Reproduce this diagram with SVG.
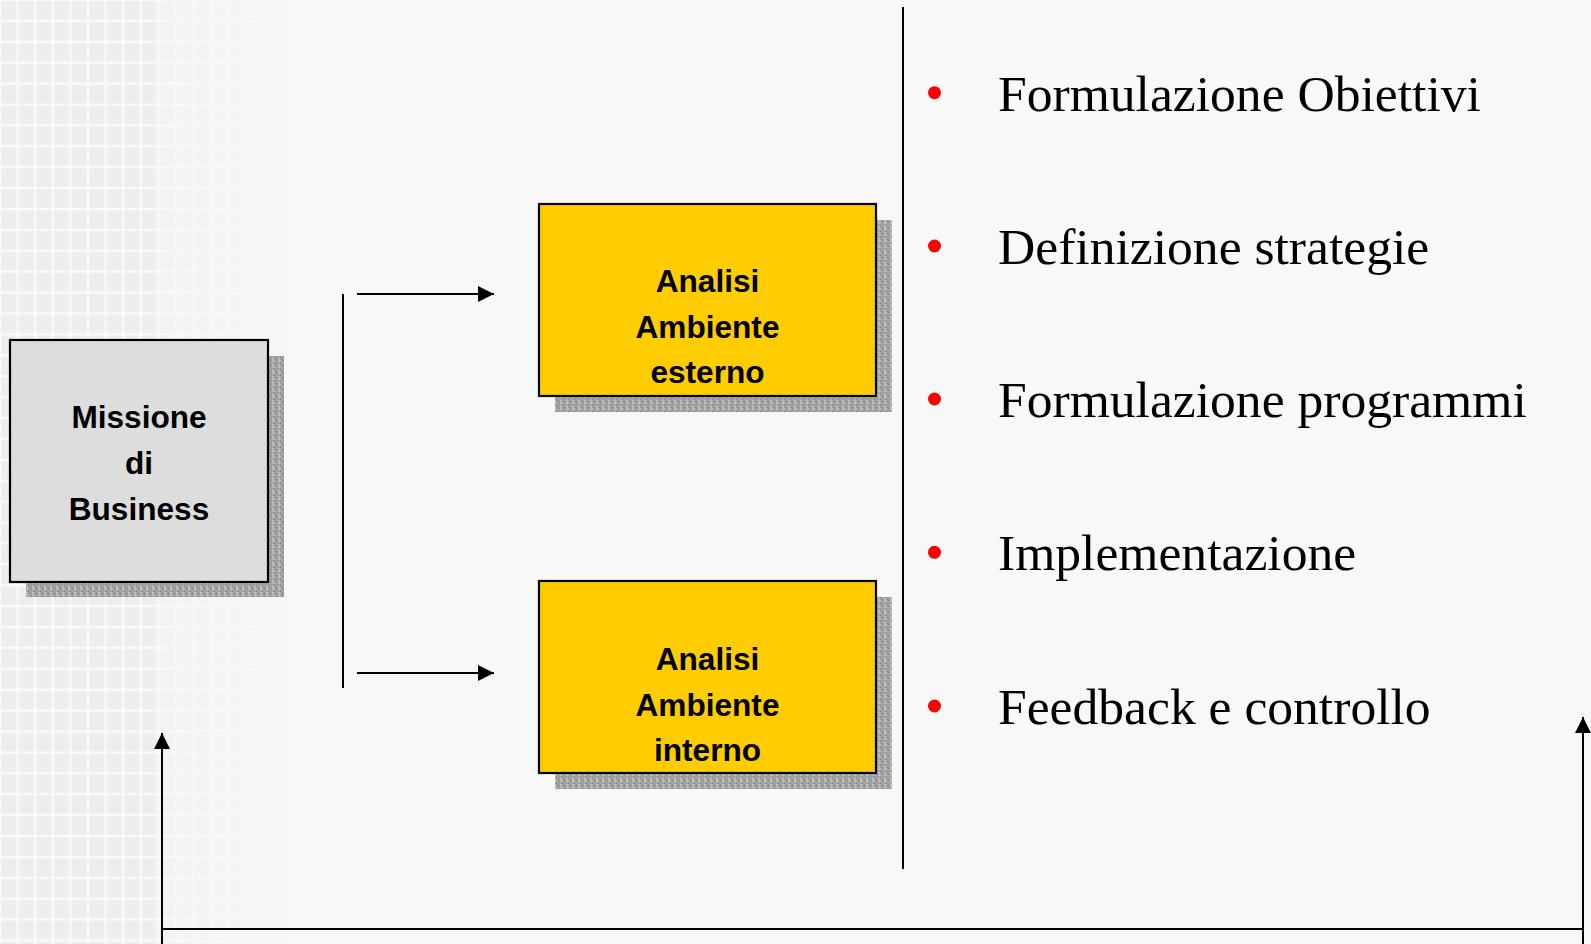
<svg xmlns="http://www.w3.org/2000/svg" width="1591" height="944" viewBox="0 0 1591 944">
  <style>
    .box { stroke: #000; stroke-width: 2.2; }
    .lbl { font-family: "Liberation Sans", Arial, sans-serif; font-weight: bold; font-size: 31.6px; fill: #000; text-anchor: middle; }
    .item { font-family: "Liberation Serif", "Times New Roman", serif; font-size: 51.6px; fill: #000; }
    .bullet { fill: #ff0000; }
    .conn { stroke: #000; stroke-width: 2; fill: none; }
  </style>
  <defs>
    <marker id="arrow" viewBox="0 0 16 16" refX="16" refY="8" markerWidth="16" markerHeight="16" markerUnits="userSpaceOnUse" orient="auto">
      <path d="M0,0 L16,8 L0,16 Z" fill="#000"/>
    </marker>
    <pattern id="grid" x="0" y="0" width="17.6" height="20.9" patternUnits="userSpaceOnUse">
      <rect x="0" y="0" width="17.6" height="20.9" fill="#fafafa"/>
      <rect x="1.2" y="1.2" width="15.2" height="18.5" fill="#ededed"/>
    </pattern>
    <pattern id="noise" x="0" y="0" width="6" height="6" patternUnits="userSpaceOnUse">
      <rect width="6" height="6" fill="#a8a8a8"/>
      <rect x="0" y="0" width="1" height="1" fill="#7a7a7a"/>
      <rect x="3" y="1" width="1" height="1" fill="#d0d0d0"/>
      <rect x="1" y="2" width="1" height="1" fill="#858585"/>
      <rect x="4" y="3" width="1" height="1" fill="#747474"/>
      <rect x="2" y="4" width="1" height="1" fill="#d4d4d4"/>
      <rect x="5" y="5" width="1" height="1" fill="#808080"/>
      <rect x="2" y="0" width="1" height="1" fill="#c8c8c8"/>
      <rect x="5" y="2" width="1" height="1" fill="#949494"/>
      <rect x="0" y="4" width="1" height="1" fill="#8e8e8e"/>
      <rect x="3" y="5" width="1" height="1" fill="#c4c4c4"/>
      <rect x="1" y="5" width="1" height="1" fill="#909090"/>
      <rect x="4" y="0" width="1" height="1" fill="#bcbcbc"/>
    </pattern>
    <linearGradient id="fade" gradientUnits="userSpaceOnUse" x1="0" y1="0" x2="300" y2="0">
      <stop offset="0" stop-color="#fff" stop-opacity="1"/>
      <stop offset="0.5" stop-color="#fff" stop-opacity="1"/>
      <stop offset="0.55" stop-color="#fff" stop-opacity="0.45"/>
      <stop offset="1" stop-color="#fff" stop-opacity="0"/>
    </linearGradient>
    <mask id="gridMask">
      <rect x="0" y="0" width="300" height="944" fill="url(#fade)"/>
    </mask>
  </defs>

  <!-- background -->
  <rect x="0" y="0" width="1591" height="944" fill="#f8f8f8"/>
  <rect x="0" y="0" width="300" height="944" fill="url(#grid)" mask="url(#gridMask)"/>

  <!-- connectors -->
  <g id="connectors">
    <line class="conn" x1="343" y1="294" x2="343" y2="688"/>
    <line class="conn" x1="357" y1="294" x2="494" y2="294" marker-end="url(#arrow)"/>
    <line class="conn" x1="357" y1="673" x2="494" y2="673" marker-end="url(#arrow)"/>
    <line class="conn" x1="903" y1="7" x2="903" y2="869"/>
    <line class="conn" x1="162" y1="929" x2="1583" y2="929"/>
    <line class="conn" x1="162" y1="944" x2="162" y2="733" marker-end="url(#arrow)"/>
    <line class="conn" x1="1583" y1="944" x2="1583" y2="717" marker-end="url(#arrow)"/>
  </g>

  <!-- Missione di Business -->
  <g id="missione">
    <rect x="26" y="356" width="258" height="241" fill="url(#noise)"/>
    <rect class="box" x="10" y="340" width="258" height="242" fill="#dddddd"/>
    <text class="lbl" x="139" y="428">Missione</text>
    <text class="lbl" x="139" y="474">di</text>
    <text class="lbl" x="139" y="520">Business</text>
  </g>

  <!-- Analisi Ambiente esterno -->
  <g id="esterno">
    <rect x="555" y="220" width="337" height="192" fill="url(#noise)"/>
    <rect class="box" x="539" y="204" width="337" height="192" fill="#ffcc00"/>
    <text class="lbl" x="707.5" y="292">Analisi</text>
    <text class="lbl" x="707.5" y="338">Ambiente</text>
    <text class="lbl" x="707.5" y="383">esterno</text>
  </g>

  <!-- Analisi Ambiente interno -->
  <g id="interno">
    <rect x="555" y="597" width="337" height="192" fill="url(#noise)"/>
    <rect class="box" x="539" y="581" width="337" height="192" fill="#ffcc00"/>
    <text class="lbl" x="707.5" y="669.5">Analisi</text>
    <text class="lbl" x="707.5" y="715.5">Ambiente</text>
    <text class="lbl" x="707.5" y="760.5">interno</text>
  </g>

  <!-- bullet list -->
  <g id="list">
    <circle class="bullet" cx="934.5" cy="92.7" r="6.5"/>
    <text class="item" x="998" y="111">Formulazione Obiettivi</text>
    <circle class="bullet" cx="934.5" cy="246" r="6.5"/>
    <text class="item" x="998" y="263.5">Definizione strategie</text>
    <circle class="bullet" cx="934.5" cy="399" r="6.5"/>
    <text class="item" x="998" y="417">Formulazione programmi</text>
    <circle class="bullet" cx="934.5" cy="552.3" r="6.5"/>
    <text class="item" x="998" y="570">Implementazione</text>
    <circle class="bullet" cx="934.5" cy="706" r="6.5"/>
    <text class="item" x="998" y="723.5">Feedback e controllo</text>
  </g>
</svg>
